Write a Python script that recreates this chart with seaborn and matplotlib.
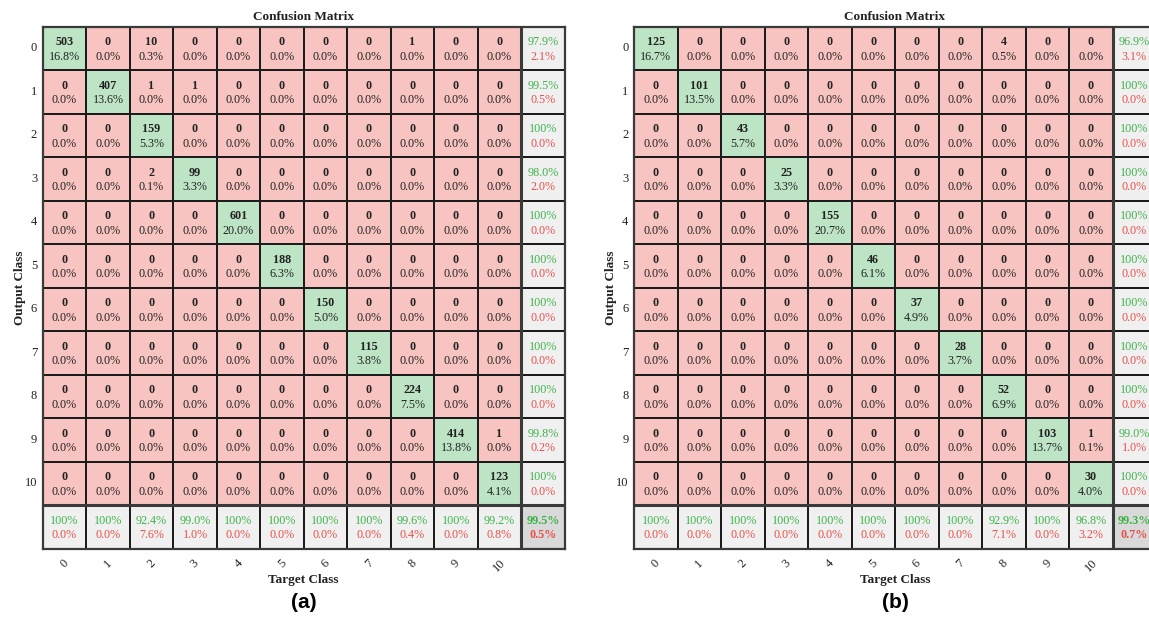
import numpy as np
import matplotlib
matplotlib.use("Agg")
import matplotlib.pyplot as plt
import seaborn as sns
from matplotlib.colors import ListedColormap

# Class labels shared by both panels
classes = [str(i) for i in range(11)]

# Confusion counts for panel (a): rows = output class, columns = target class
counts_a = [
    [503, 0, 10, 0, 0, 0, 0, 0, 1, 0, 0],
    [0, 407, 1, 1, 0, 0, 0, 0, 0, 0, 0],
    [0, 0, 159, 0, 0, 0, 0, 0, 0, 0, 0],
    [0, 0, 2, 99, 0, 0, 0, 0, 0, 0, 0],
    [0, 0, 0, 0, 601, 0, 0, 0, 0, 0, 0],
    [0, 0, 0, 0, 0, 188, 0, 0, 0, 0, 0],
    [0, 0, 0, 0, 0, 0, 150, 0, 0, 0, 0],
    [0, 0, 0, 0, 0, 0, 0, 115, 0, 0, 0],
    [0, 0, 0, 0, 0, 0, 0, 0, 224, 0, 0],
    [0, 0, 0, 0, 0, 0, 0, 0, 0, 414, 1],
    [0, 0, 0, 0, 0, 0, 0, 0, 0, 0, 123],
]

# Confusion counts for panel (b)
counts_b = [
    [125, 0, 0, 0, 0, 0, 0, 0, 4, 0, 0],
    [0, 101, 0, 0, 0, 0, 0, 0, 0, 0, 0],
    [0, 0, 43, 0, 0, 0, 0, 0, 0, 0, 0],
    [0, 0, 0, 25, 0, 0, 0, 0, 0, 0, 0],
    [0, 0, 0, 0, 155, 0, 0, 0, 0, 0, 0],
    [0, 0, 0, 0, 0, 46, 0, 0, 0, 0, 0],
    [0, 0, 0, 0, 0, 0, 37, 0, 0, 0, 0],
    [0, 0, 0, 0, 0, 0, 0, 28, 0, 0, 0],
    [0, 0, 0, 0, 0, 0, 0, 0, 52, 0, 0],
    [0, 0, 0, 0, 0, 0, 0, 0, 0, 103, 1],
    [0, 0, 0, 0, 0, 0, 0, 0, 0, 0, 30],
]

panel_letters = ["(a)", "(b)"]

RED_CELL = "#f8c4c1"
GREEN_CELL = "#bde5c5"
GRAY_CELL = "#f0f0f0"
DARK_CELL = "#d9d9d9"
GREEN_TXT = "#3db34a"
RED_TXT = "#e8504b"
TEXT = "#222222"

plt.rcParams["font.family"] = ["Liberation Serif", "DejaVu Serif"]


def pct_label(p):
    if round(p, 1) >= 100.0:
        return "100%"
    return f"{p:.1f}%"


def draw_confusion(ax, counts, letter):
    cm = np.array(counts, dtype=float)
    n = cm.shape[0]
    total = cm.sum()
    diag = np.diag(cm)
    row_acc = diag / cm.sum(axis=1) * 100
    col_acc = diag / cm.sum(axis=0) * 100
    overall = diag.sum() / total * 100

    # cell category: 0 misclassified, 1 correct, 2 summary, 3 overall
    cat = np.zeros((n + 1, n + 1))
    cat[np.arange(n), np.arange(n)] = 1
    cat[n, :] = 2
    cat[:, n] = 2
    cat[n, n] = 3

    sns.heatmap(cat, ax=ax, cmap=ListedColormap([RED_CELL, GREEN_CELL, GRAY_CELL, DARK_CELL]),
                vmin=-0.5, vmax=3.5, cbar=False, linewidths=1.1, linecolor="#1c1c1c",
                xticklabels=classes + [""], yticklabels=classes + [""])

    fs = 8.7
    for i in range(n):
        for j in range(n):
            ax.text(j + 0.5, i + 0.36, f"{int(cm[i, j])}", ha="center", va="center",
                    fontsize=fs, fontweight="bold", color=TEXT)
            ax.text(j + 0.5, i + 0.69, pct_label(cm[i, j] / total * 100), ha="center",
                    va="center", fontsize=fs, color=TEXT)
        ax.text(n + 0.5, i + 0.36, pct_label(row_acc[i]), ha="center", va="center",
                fontsize=fs, color=GREEN_TXT)
        ax.text(n + 0.5, i + 0.69, pct_label(100 - row_acc[i]), ha="center", va="center",
                fontsize=fs, color=RED_TXT)
    for j in range(n):
        ax.text(j + 0.5, n + 0.36, pct_label(col_acc[j]), ha="center", va="center",
                fontsize=fs, color=GREEN_TXT)
        ax.text(j + 0.5, n + 0.69, pct_label(100 - col_acc[j]), ha="center", va="center",
                fontsize=fs, color=RED_TXT)
    ax.text(n + 0.5, n + 0.36, pct_label(overall), ha="center", va="center",
            fontsize=fs, fontweight="bold", color=GREEN_TXT)
    ax.text(n + 0.5, n + 0.69, pct_label(100 - overall), ha="center", va="center",
            fontsize=fs, fontweight="bold", color=RED_TXT)

    # heavier separators around the summary row and column
    ax.axhline(n, color="#3a3a3a", lw=2.2)
    ax.axvline(n, color="#3a3a3a", lw=2.2)
    for s in ax.spines.values():
        s.set_visible(True)
        s.set_color("#3a3a3a")
        s.set_linewidth(1.6)

    ax.tick_params(length=0, labelsize=9, colors=TEXT)
    ax.tick_params(axis="y", pad=4)
    ax.tick_params(axis="x", pad=6)
    plt.setp(ax.get_xticklabels(), rotation=45, ha="center", va="top")
    plt.setp(ax.get_yticklabels(), rotation=0, va="center")

    ax.set_title("Confusion Matrix", fontsize=9.5, fontweight="bold", pad=5, color=TEXT)
    ax.set_xlabel("Target Class", fontsize=9.5, fontweight="bold", labelpad=0, color=TEXT)
    ax.set_ylabel("Output Class", fontsize=9.5, fontweight="bold", labelpad=-1, color=TEXT)

    x0, y0, w, h = ax.get_position().bounds
    ax.figure.text(x0 + w / 2, 0.024, letter, ha="center", va="center", fontsize=15,
                   fontweight="bold", family=["Liberation Sans", "DejaVu Sans"], color="black")


fig = plt.figure(figsize=(11.49, 6.17), dpi=100)
W, H = 1149, 617
cell = 43.5
axw, axh = 12 * cell / W, 12 * cell / H
bottom = 1 - 548.5 / H
ax_a = fig.add_axes([42.7 / W, bottom, axw, axh])
ax_b = fig.add_axes([634.0 / W, bottom, axw, axh])

draw_confusion(ax_a, counts_a, panel_letters[0])
draw_confusion(ax_b, counts_b, panel_letters[1])

fig.savefig("out.png", dpi=100, facecolor="white")
